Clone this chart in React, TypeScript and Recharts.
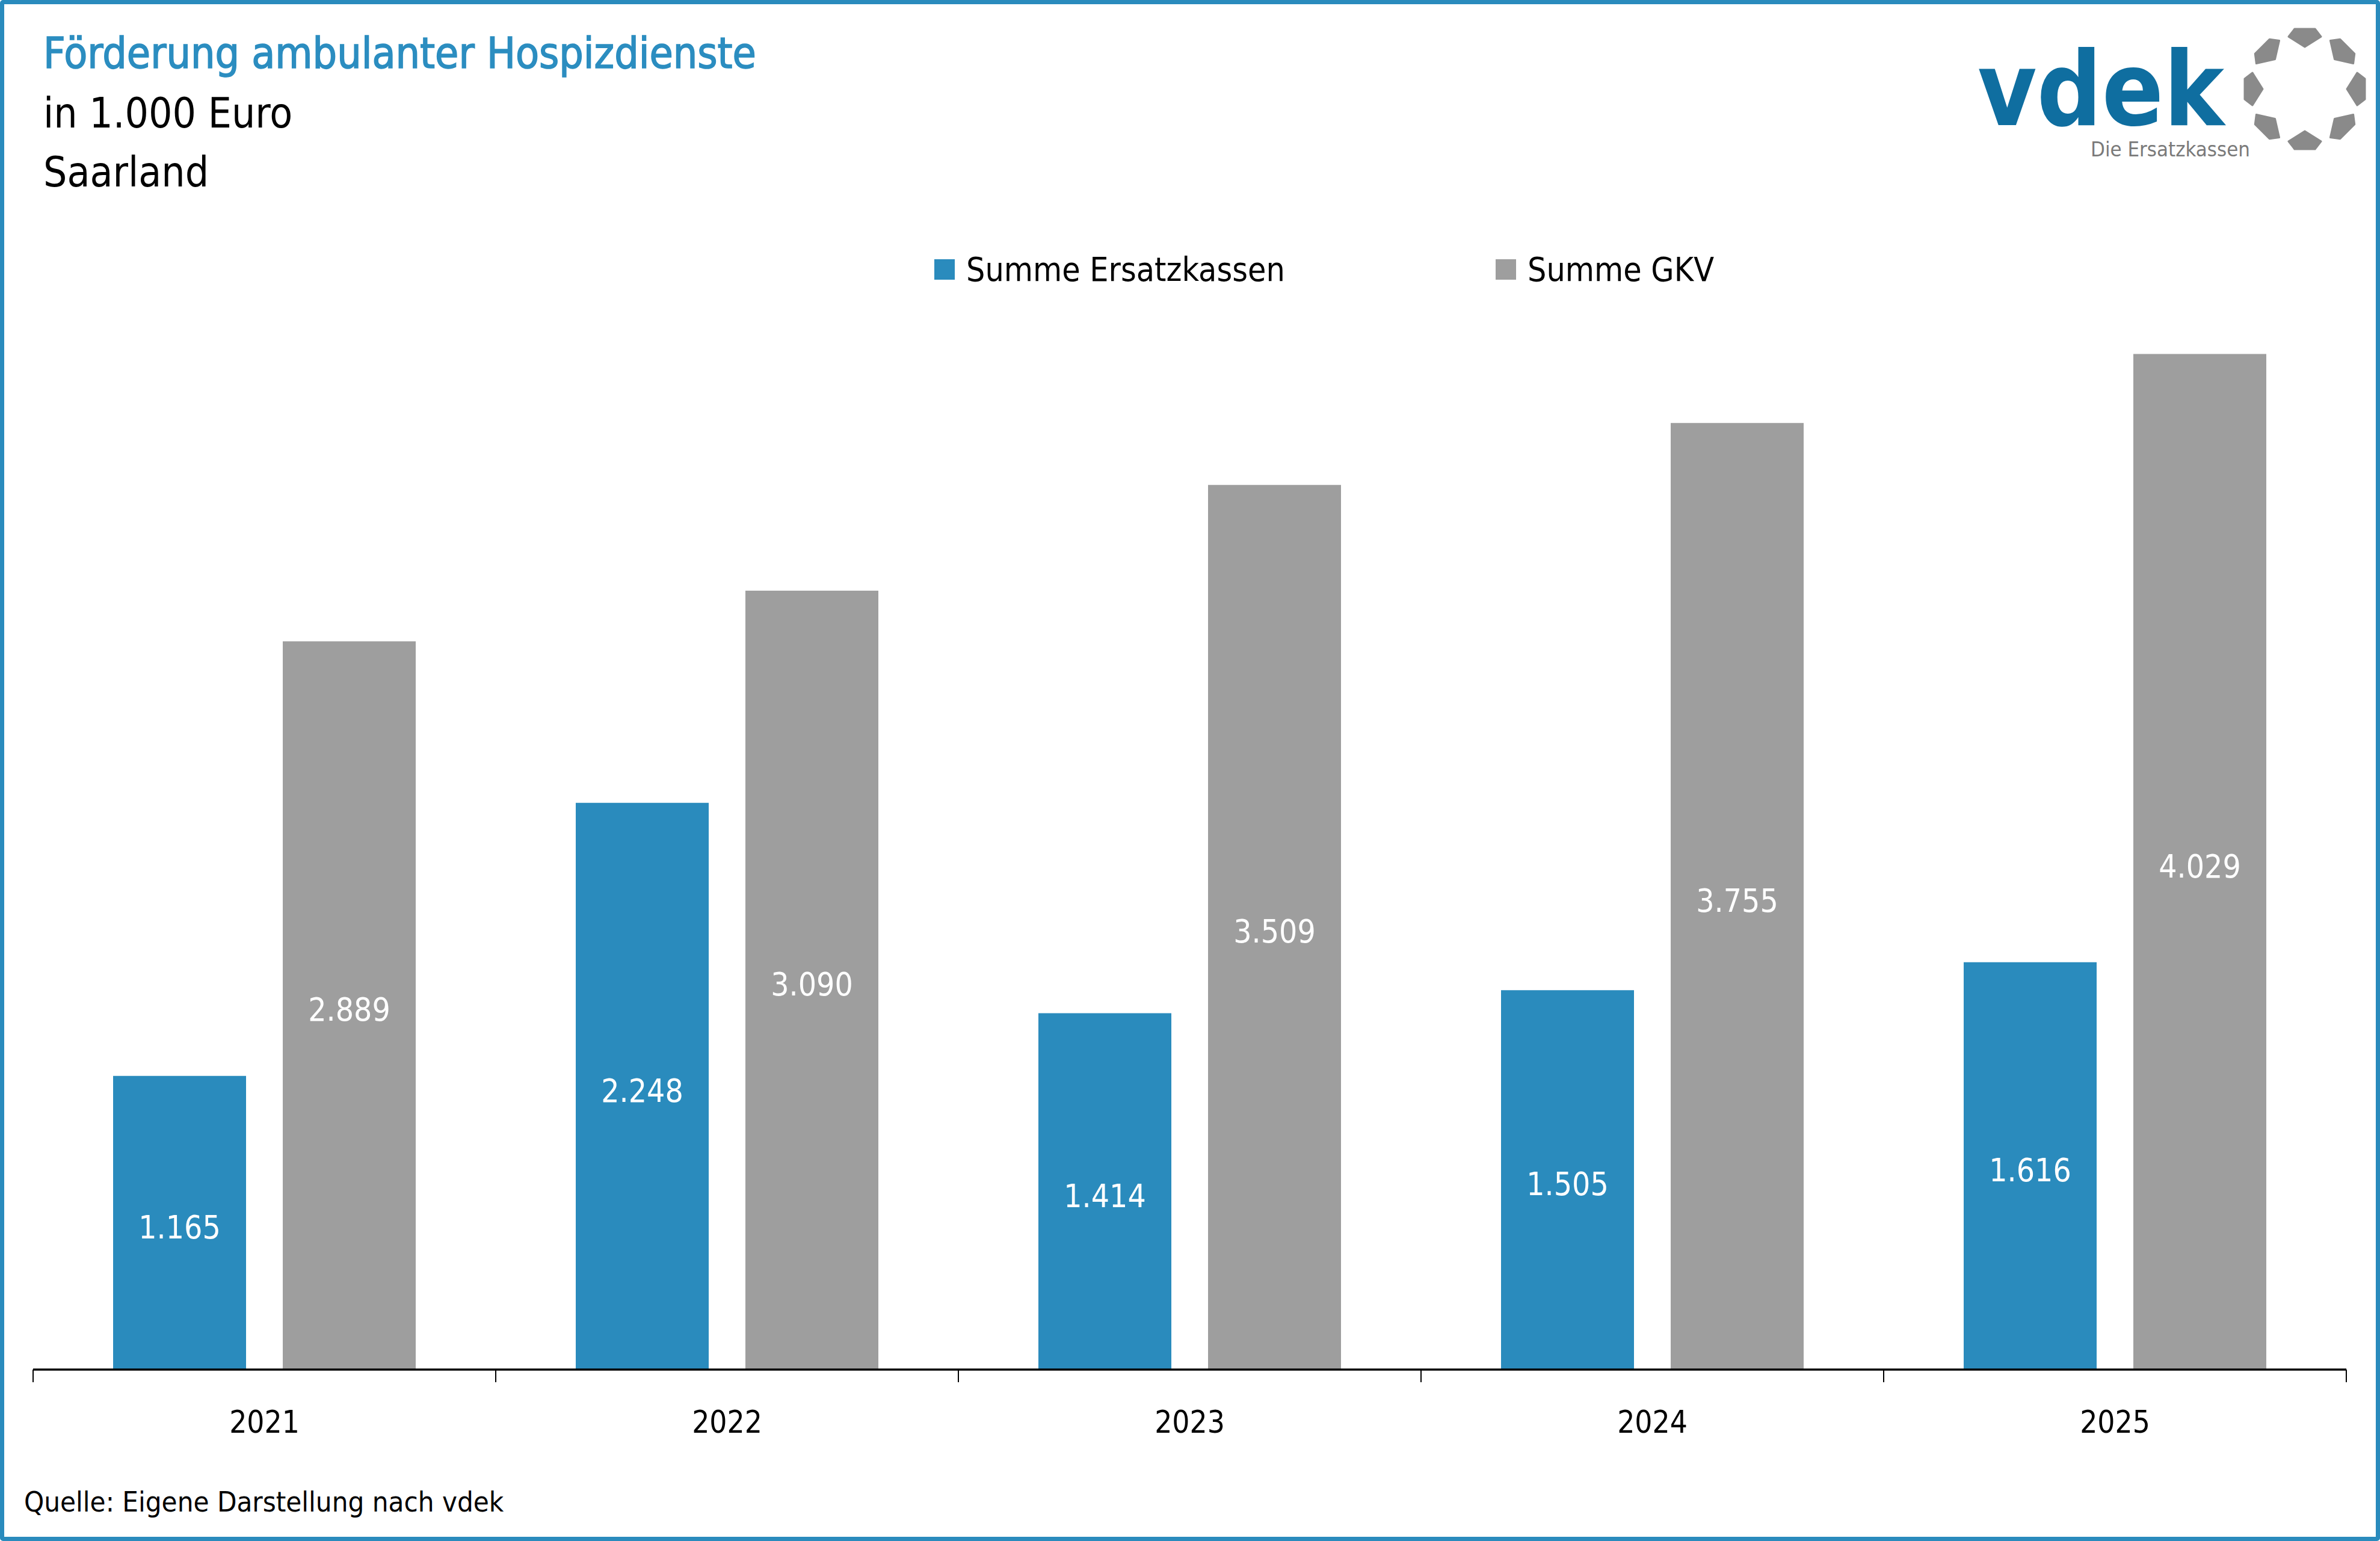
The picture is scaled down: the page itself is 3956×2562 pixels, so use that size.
import React from "react";
import { BarChart, Bar, XAxis, YAxis, Legend, LabelList } from "recharts";

const years = ["2021", "2022", "2023", "2024", "2025"];
const ersatzkassen = [1165, 2248, 1414, 1505, 1616];
const gkv = [2889, 3090, 3509, 3755, 4029];
const seriesNames = ["Summe Ersatzkassen", "Summe GKV"];

const data = years.map((year, i) => ({ year, ek: ersatzkassen[i], gkv: gkv[i] }));

const W = 3956;
const H = 2562;
const BLUE = "#2A8BBD";
const GRAY = "#9E9E9E";
const FONT = "'DejaVu Sans Condensed', 'DejaVu Sans', sans-serif";
const MARGIN = { top: 391, right: 56, left: 55, bottom: 165 };
const X_AXIS_H = 120;
const TICK_SIZE = 21;
const TICK_MARGIN = 48;

// 1165 -> "1.165"
const fmt = (v: any) => String(v).replace(/\B(?=(\d{3})+(?!\d))/g, ".");

const AxisTick = (props: any) => {
  const { x, y, payload, index, visibleTicksCount } = props;
  const half = payload.offset || (W - MARGIN.left - MARGIN.right) / years.length / 2;
  const axisY = y - TICK_SIZE - TICK_MARGIN;
  return (
    <g>
      <line x1={x - half} x2={x - half} y1={axisY} y2={axisY + TICK_SIZE} stroke="#000" strokeWidth={2} />
      {index === visibleTicksCount - 1 && (
        <line x1={x + half} x2={x + half} y1={axisY} y2={axisY + TICK_SIZE} stroke="#000" strokeWidth={2} />
      )}
      <text x={x} y={y} dy="0.71em" textAnchor="middle" fontFamily={FONT} fontSize={51} fill="#000">
        {payload.value}
      </text>
    </g>
  );
};

const renderLegend = (props: any) => {
  const { payload } = props;
  return (
    <div style={{ display: "flex", alignItems: "center" }}>
      {payload.map((entry: any, i: number) => (
        <div
          key={entry.value}
          style={{ display: "flex", alignItems: "center", width: i === 0 ? 933 : undefined, height: 60 }}
        >
          <span style={{ width: 34, height: 34, background: entry.color, marginRight: 19, display: "inline-block" }} />
          <span style={{ fontFamily: FONT, fontSize: 55, lineHeight: "60px", color: "#000", whiteSpace: "nowrap" }}>
            {entry.value}
          </span>
        </div>
      ))}
    </div>
  );
};

const Logo = () => {
  const cx = 3831;
  const cy = 148;
  const R = 86;
  const shape = [
    [-17, 14],
    [17, 14],
    [27, 1],
    [0, -16],
    [-27, 1],
  ];
  const blobs = [0, 1, 2, 3, 4, 5, 6, 7].map((k) => {
    const a = (k * Math.PI) / 4;
    const rx = Math.sin(a);
    const ry = -Math.cos(a);
    const tx = Math.cos(a);
    const ty = Math.sin(a);
    const pts = shape
      .map(([u, r]) => `${cx + (R + r) * rx + u * tx},${cy + (R + r) * ry + u * ty}`)
      .join(" ");
    return <polygon key={k} points={pts} fill="#8A8A8A" stroke="#8A8A8A" strokeWidth={3} strokeLinejoin="round" />;
  });
  return (
    <g>
      <text
        x={3287}
        y={208}
        fontFamily={FONT}
        fontWeight="bold"
        fontSize={172}
        fill="#0F6EA0"
        textLength={410}
        lengthAdjust="spacingAndGlyphs"
      >
        vdek
      </text>
      <text x={3475} y={260} fontFamily={FONT} fontSize={34} fill="#7A7A7A" textLength={265} lengthAdjust="spacingAndGlyphs">
        Die Ersatzkassen
      </text>
      {blobs}
    </g>
  );
};

export default function App() {
  return (
    <div style={{ position: "absolute", left: 0, top: 0, width: W, height: H, background: "#fff" }}>
      <div style={{ position: "absolute", left: 0, top: 0 }}>
        <BarChart width={W} height={H} data={data} margin={MARGIN} barSize={221} barGap={61}>
          <XAxis
            dataKey="year"
            height={X_AXIS_H}
            axisLine={{ stroke: "#000", strokeWidth: 3.5 }}
            tickLine={false}
            tickSize={TICK_SIZE}
            tickMargin={TICK_MARGIN}
            tick={<AxisTick />}
            interval={0}
          />
          <YAxis hide domain={[0, 4500]} />
          <Legend
            content={renderLegend}
            layout="horizontal"
            align="center"
            verticalAlign="middle"
            wrapperStyle={{ top: 418, left: 1553, width: 1500 }}
          />
          <Bar dataKey="ek" name={seriesNames[0]} fill={BLUE} isAnimationActive={false}>
            <LabelList dataKey="ek" position="center" formatter={fmt} fill="#fff" fontFamily={FONT} fontSize={53} dy={7} />
          </Bar>
          <Bar dataKey="gkv" name={seriesNames[1]} fill={GRAY} isAnimationActive={false}>
            <LabelList dataKey="gkv" position="center" formatter={fmt} fill="#fff" fontFamily={FONT} fontSize={53} dy={7} />
          </Bar>
        </BarChart>
      </div>
      <svg width={W} height={H} style={{ position: "absolute", left: 0, top: 0, pointerEvents: "none" }}>
        <text x={72} y={113} fontFamily={FONT} fontSize={71} fill="#2B8DC0" stroke="#2B8DC0" strokeWidth={1.5}>
          Förderung ambulanter Hospizdienste
        </text>
        <text x={72} y={212} fontFamily={FONT} fontSize={69} fill="#000">
          in 1.000 Euro
        </text>
        <text x={72} y={310} fontFamily={FONT} fontSize={69} fill="#000">
          Saarland
        </text>
        <text x={40} y={2513} fontFamily={FONT} fontSize={47} fill="#000">
          Quelle: Eigene Darstellung nach vdek
        </text>
        <Logo />
      </svg>
      <div
        style={{
          position: "absolute",
          left: 0,
          top: 0,
          width: W,
          height: H,
          boxSizing: "border-box",
          border: `7px solid ${BLUE}`,
          borderRadius: 5,
          pointerEvents: "none",
        }}
      />
    </div>
  );
}
